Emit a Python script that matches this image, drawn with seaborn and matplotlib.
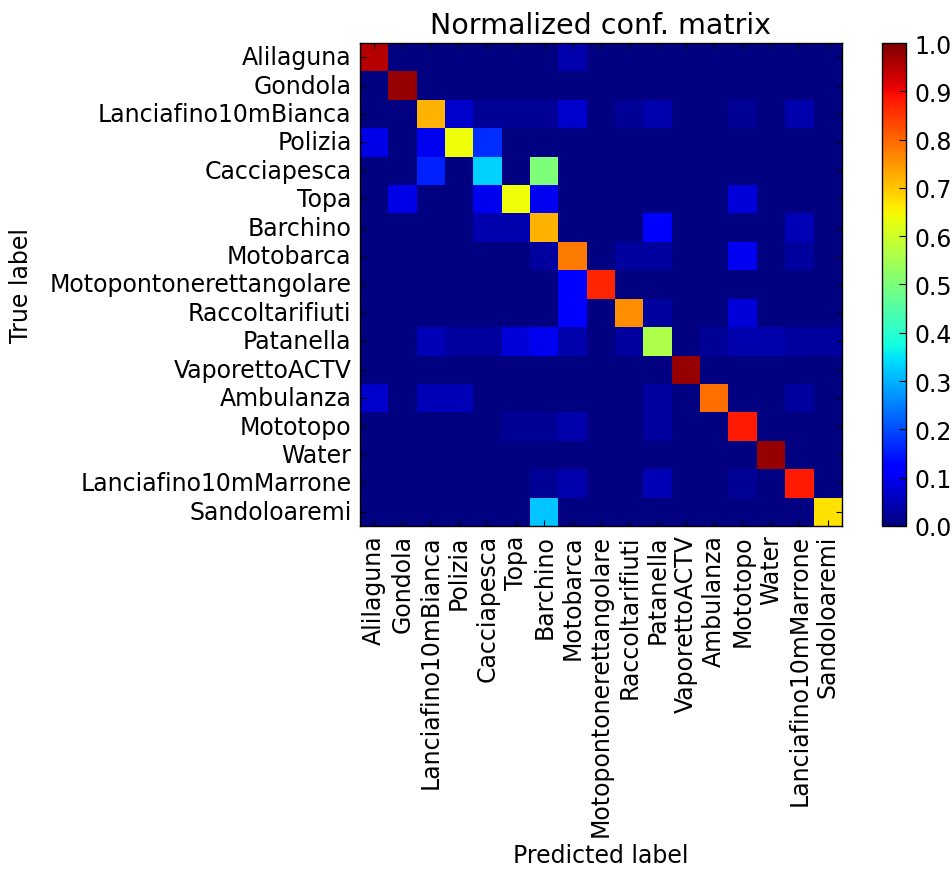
import numpy as np
import pandas as pd
import matplotlib
matplotlib.use("Agg")
import matplotlib.pyplot as plt
import seaborn as sns

# Clases (mismo orden en filas y columnas)
labels = ["Alilaguna", "Gondola", "Lanciafino10mBianca", "Polizia", "Cacciapesca",
          "Topa", "Barchino", "Motobarca", "Motopontonerettangolare", "Raccoltarifiuti",
          "Patanella", "VaporettoACTV", "Ambulanza", "Mototopo", "Water",
          "Lanciafino10mMarrone", "Sandoloaremi"]

# Matriz de confusión normalizada
#         Ali   Gon   LBi   Pol   Cac   Top   Bar   Mba   Mpr   Rac   Pat   Vap   Amb   Mto   Wat   LMa   San
row_ali = [0.95, 0, 0, 0, 0, 0, 0, 0.04, 0, 0, 0, 0, 0, 0, 0, 0, 0]
row_gon = [0, 0.98, 0, 0, 0, 0, 0, 0, 0, 0, 0, 0, 0, 0, 0, 0, 0]
row_lbi = [0, 0, 0.72, 0.07, 0.02, 0.02, 0.02, 0.07, 0, 0.02, 0.04, 0, 0, 0.02, 0, 0.04, 0]
row_pol = [0.09, 0, 0.10, 0.64, 0.17, 0, 0, 0, 0, 0, 0, 0, 0, 0, 0, 0, 0]
row_cac = [0, 0, 0.16, 0, 0.33, 0, 0.50, 0, 0, 0, 0, 0, 0, 0, 0, 0, 0]
row_top = [0, 0.09, 0, 0, 0.10, 0.64, 0.10, 0, 0, 0, 0, 0, 0, 0.08, 0, 0, 0]
row_bar = [0, 0, 0, 0, 0.04, 0.04, 0.72, 0, 0, 0, 0.12, 0, 0, 0, 0, 0.05, 0]
row_mba = [0, 0, 0, 0, 0, 0, 0.03, 0.78, 0, 0.03, 0.03, 0, 0, 0.10, 0, 0.03, 0]
row_mpr = [0, 0, 0, 0, 0, 0, 0, 0.12, 0.87, 0, 0, 0, 0, 0, 0, 0, 0]
row_rac = [0, 0, 0, 0, 0, 0, 0, 0.12, 0, 0.76, 0.03, 0, 0, 0.08, 0, 0, 0]
row_pat = [0, 0, 0.05, 0.03, 0.03, 0.08, 0.10, 0.04, 0, 0.03, 0.56, 0, 0.02, 0.04, 0.04, 0.03, 0.03]
row_vap = [0, 0, 0, 0, 0, 0, 0, 0, 0, 0, 0, 0.98, 0, 0, 0, 0, 0]
row_amb = [0.07, 0, 0.05, 0.05, 0, 0, 0, 0, 0, 0, 0.03, 0, 0.79, 0, 0, 0.03, 0]
row_mto = [0, 0, 0, 0, 0, 0.02, 0.02, 0.04, 0, 0, 0.03, 0, 0, 0.88, 0, 0, 0]
row_wat = [0, 0, 0, 0, 0, 0, 0, 0, 0, 0, 0, 0, 0, 0, 0.98, 0, 0]
row_lma = [0, 0, 0, 0, 0, 0, 0.02, 0.04, 0, 0, 0.05, 0, 0, 0.02, 0, 0.88, 0]
row_san = [0, 0, 0, 0, 0, 0, 0.32, 0, 0, 0, 0, 0, 0, 0, 0, 0, 0.67]

cm = pd.DataFrame([row_ali, row_gon, row_lbi, row_pol, row_cac, row_top, row_bar,
                   row_mba, row_mpr, row_rac, row_pat, row_vap, row_amb, row_mto,
                   row_wat, row_lma, row_san], index=labels, columns=labels)

cbar_ticks = [0.0, 0.1, 0.2, 0.3, 0.4, 0.5, 0.6, 0.7, 0.8, 0.9, 1.0]

fig = plt.figure(figsize=(9.52, 8.7), dpi=100)
ax = fig.add_axes([0.378, 0.3943, 0.5063, 0.5551])
cax = fig.add_axes([0.9265, 0.3943, 0.0252, 0.5551])

sns.heatmap(cm, ax=ax, cbar_ax=cax, cmap="jet", vmin=0, vmax=1,
            xticklabels=labels, yticklabels=labels,
            cbar_kws={"ticks": cbar_ticks, "format": "%.1f"})

# Marco negro alrededor de la matriz
for sp in ax.spines.values():
    sp.set_visible(True)
    sp.set_color("black")
    sp.set_linewidth(1.0)

ax.set_xticklabels(labels, rotation=90, fontsize=17)
ax.set_yticklabels(labels, rotation=0, fontsize=17)
ax.tick_params(direction="in", length=4, width=0.8, color="black",
               top=True, right=True, pad=6)

ax.set_title("Normalized conf. matrix", fontsize=20.5, pad=7)
ax.set_xlabel("Predicted label", fontsize=17)
ax.set_ylabel("True label", fontsize=17)
ax.xaxis.set_label_coords(0.5, -0.657)
ax.yaxis.set_label_coords(-0.678, 0.5)

cbar = ax.collections[0].colorbar
cbar.outline.set_visible(True)
cbar.outline.set_edgecolor("black")
cbar.outline.set_linewidth(1.0)
cbar.ax.tick_params(labelsize=17, direction="in", length=5, width=0.8, pad=6)

fig.savefig("out.png", dpi=100)
